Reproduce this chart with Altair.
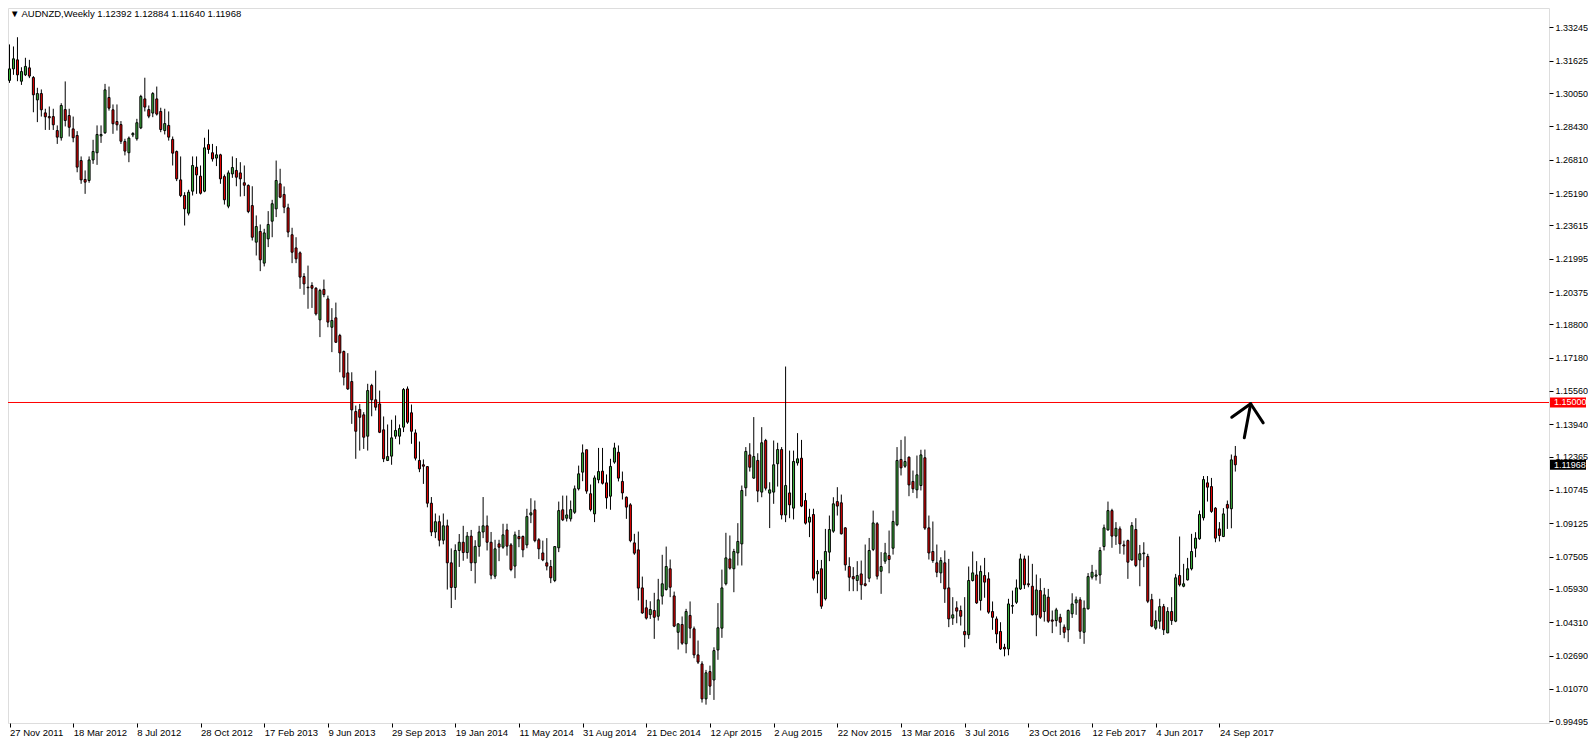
import altair as alt
import pandas as pd

# ---- weekly AUDNZD candles, 27 Nov 2011 .. 22 Oct 2017 ----
opens = [
1.3067,1.3123,1.3167,1.3063,1.3094,1.3128,1.3081,1.2972,1.3003,1.2909,
1.2891,1.2891,1.2823,1.2788,1.2925,1.2896,1.2831,1.2799,1.2677,1.2585,
1.2580,1.2680,1.2715,1.2797,1.2812,1.2984,1.2924,1.2867,1.2852,1.2770,
1.2715,1.2802,1.2783,1.2836,1.2977,1.2925,1.2908,1.2977,1.2916,1.2823,
1.2848,1.2780,1.2721,1.2583,1.2507,1.2421,1.2528,1.2645,1.2601,1.2528,
1.2755,1.2715,1.2689,1.2705,1.2599,1.2455,1.2612,1.2629,1.2617,1.2569,
1.2556,1.2458,1.2280,1.2332,1.2178,1.2296,1.2382,1.2442,1.2564,1.2512,
1.2447,1.2316,1.2252,1.2228,1.2113,1.2061,1.2069,1.2056,1.1902,1.2050,
1.2004,1.1866,1.1912,1.1826,1.1748,1.1644,1.1602,1.1456,1.1466,1.1440,
1.1336,1.1583,1.1513,1.1493,1.1367,1.1218,1.1239,1.1336,1.1336,1.1380,
1.1566,1.1450,1.1352,1.1218,1.1197,1.1188,1.1010,1.0870,1.0920,1.0830,
1.0900,1.0720,1.0600,1.0780,1.0820,1.0770,1.0850,1.0720,1.0800,1.0870,
1.0900,1.0820,1.0655,1.0812,1.0796,1.0880,1.0807,1.0704,1.0848,1.0848,
1.0807,1.0953,1.0978,1.0832,1.0768,1.0720,1.0702,1.0634,1.0793,1.0978,
1.0937,1.0934,1.0966,1.1080,1.1161,1.1270,1.1056,1.0958,1.1124,1.1166,
1.1109,1.1044,1.1210,1.1258,1.1116,1.1039,1.1002,1.0817,1.0783,1.0598,
1.0501,1.0468,1.0488,1.0460,1.0558,1.0590,1.0691,1.0559,1.0382,1.0420,
1.0326,1.0464,1.0399,1.0272,1.0228,1.0058,1.0191,1.0150,1.0296,1.0402,
1.0618,1.0739,1.0691,1.0768,1.0812,1.1085,1.1245,1.1132,1.1218,1.1064,
1.1315,1.1059,1.1064,1.1202,1.1271,1.0953,1.1060,1.0986,1.1206,1.1229,
1.1023,1.0918,1.0955,1.0666,1.0691,1.0545,1.0772,1.0874,1.1018,1.1012,
1.0890,1.0702,1.0653,1.0634,1.0666,1.0618,1.0645,1.0785,1.0910,1.0679,
1.0728,1.0755,1.0791,1.0905,1.1223,1.1190,1.1234,1.1116,1.1075,1.1096,
1.1231,1.0890,1.0775,1.0720,1.0671,1.0720,1.0598,1.0451,1.0501,1.0488,
1.0386,1.0370,1.0634,1.0661,1.0537,1.0658,1.0642,1.0483,1.0447,1.0386,
1.0309,1.0301,1.0509,1.0528,1.0593,1.0739,1.0618,1.0606,1.0467,1.0585,
1.0483,1.0553,1.0442,1.0439,1.0455,1.0407,1.0394,1.0472,1.0525,1.0540,
1.0382,1.0496,1.0650,1.0655,1.0661,1.0799,1.0880,1.0974,1.0850,1.0885,
1.0807,1.0828,1.0734,1.0882,1.0734,1.0764,1.0751,1.0541,1.0402,1.0436,
1.0507,1.0379,1.0483,1.0436,1.0658,1.0606,1.0637,1.0691,1.0791,1.0837,
1.0939,1.1109,1.1091,1.0986,1.0885,1.0848,1.1004,1.0983,1.12392]
highs = [
1.3242,1.3232,1.3277,1.3131,1.3177,1.3167,1.3088,1.3031,1.3023,1.2929,
1.2940,1.2929,1.2848,1.2956,1.3062,1.2929,1.2891,1.2820,1.2697,1.2629,
1.2697,1.2778,1.2848,1.2848,1.3050,1.3037,1.2950,1.2950,1.2869,1.2783,
1.2794,1.2815,1.2880,1.2997,1.3080,1.2945,1.3010,1.3037,1.2934,1.2929,
1.2916,1.2794,1.2726,1.2697,1.2523,1.2535,1.2697,1.2697,1.2653,1.2788,
1.2828,1.2758,1.2747,1.2710,1.2609,1.2629,1.2697,1.2689,1.2669,1.2653,
1.2561,1.2552,1.2410,1.2366,1.2345,1.2431,1.2486,1.2677,1.2637,1.2551,
1.2467,1.2350,1.2304,1.2235,1.2129,1.2166,1.2085,1.2061,1.2053,1.2098,
1.2020,1.1959,1.1986,1.1834,1.1753,1.1740,1.1647,1.1485,1.1493,1.1453,
1.1591,1.1591,1.1655,1.1558,1.1432,1.1393,1.1416,1.1437,1.1393,1.1570,
1.1578,1.1490,1.1369,1.1310,1.1223,1.1190,1.1040,1.0960,1.0950,1.0960,
1.0930,1.0790,1.0810,1.0860,1.0900,1.0870,1.0880,1.0830,1.0900,1.1040,
1.0950,1.0870,1.0832,1.0832,1.0910,1.0910,1.0816,1.0872,1.0880,1.0853,
1.0983,1.1034,1.1023,1.0840,1.0828,1.0840,1.0734,1.0801,1.1018,1.1047,
1.1047,1.1023,1.1096,1.1193,1.1296,1.1270,1.1101,1.1145,1.1279,1.1279,
1.1150,1.1226,1.1304,1.1291,1.1164,1.1043,1.1010,1.0861,1.0872,1.0653,
1.0540,1.0533,1.0574,1.0642,1.0759,1.0799,1.0736,1.0580,1.0426,1.0459,
1.0496,1.0532,1.0410,1.0342,1.0241,1.0199,1.0220,1.0309,1.0524,1.0687,
1.0866,1.0853,1.0788,1.0913,1.1096,1.1283,1.1302,1.1429,1.1253,1.1380,
1.1323,1.1112,1.1315,1.1304,1.1283,1.1675,1.1266,1.1266,1.1351,1.1318,
1.1060,1.0983,1.0983,1.0734,1.0734,1.0885,1.0950,1.1039,1.1088,1.1052,
1.0893,1.0747,1.0699,1.0728,1.0731,1.0809,1.0841,1.0974,1.0918,1.0772,
1.0817,1.0877,1.0974,1.1283,1.1318,1.1335,1.1237,1.1169,1.1242,1.1270,
1.1271,1.0950,1.0921,1.0809,1.0747,1.0780,1.0739,1.0553,1.0533,1.0512,
1.0553,1.0702,1.0775,1.0728,1.0707,1.0744,1.0674,1.0532,1.0459,1.0431,
1.0326,1.0545,1.0585,1.0639,1.0764,1.0755,1.0755,1.0715,1.0663,1.0645,
1.0598,1.0593,1.0488,1.0501,1.0472,1.0420,1.0493,1.0572,1.0556,1.0553,
1.0537,1.0670,1.0710,1.0686,1.0796,1.0906,1.1018,1.0983,1.0918,1.0897,
1.0828,1.0833,1.0918,1.0937,1.0807,1.0820,1.0764,1.0569,1.0488,1.0545,
1.0520,1.0504,1.0553,1.0666,1.0848,1.0715,1.0744,1.0861,1.0869,1.0974,
1.1142,1.1142,1.1133,1.0991,1.0918,1.0986,1.1023,1.1247,1.12884]
lows = [
1.3055,1.3094,1.3063,1.3045,1.3088,1.3078,1.2912,1.2864,1.2891,1.2826,
1.2826,1.2826,1.2758,1.2774,1.2843,1.2794,1.2766,1.2620,1.2564,1.2515,
1.2569,1.2661,1.2656,1.2763,1.2807,1.2920,1.2807,1.2823,1.2758,1.2702,
1.2669,1.2791,1.2774,1.2830,1.2916,1.2883,1.2888,1.2896,1.2815,1.2804,
1.2774,1.2653,1.2577,1.2499,1.2361,1.2410,1.2507,1.2515,1.2512,1.2523,
1.2710,1.2672,1.2650,1.2564,1.2463,1.2445,1.2593,1.2552,1.2502,1.2504,
1.2421,1.2288,1.2215,1.2139,1.2162,1.2256,1.2304,1.2402,1.2494,1.2421,
1.2304,1.2178,1.2178,1.2053,1.2024,1.1956,1.1960,1.1923,1.1818,1.2012,
1.1866,1.1745,1.1790,1.1647,1.1583,1.1561,1.1396,1.1226,1.1266,1.1274,
1.1266,1.1433,1.1461,1.1351,1.1210,1.1215,1.1197,1.1323,1.1296,1.1356,
1.1396,1.1299,1.1218,1.1161,1.1104,1.0990,1.0850,1.0840,1.0800,1.0810,
1.0590,1.0500,1.0540,1.0700,1.0730,1.0740,1.0680,1.0620,1.0750,1.0840,
1.0780,1.0640,1.0642,1.0728,1.0788,1.0755,1.0679,1.0645,1.0796,1.0747,
1.0791,1.0913,1.0820,1.0738,1.0728,1.0683,1.0621,1.0626,1.0772,1.0923,
1.0921,1.0921,1.0958,1.1072,1.1117,1.1056,1.0970,1.0918,1.1107,1.1101,
1.0983,1.0978,1.1202,1.1116,1.1028,1.0934,1.0820,1.0759,1.0537,1.0472,
1.0444,1.0447,1.0350,1.0439,1.0517,1.0585,1.0553,1.0407,1.0298,1.0321,
1.0280,1.0353,1.0256,1.0228,1.0040,1.0030,1.0077,1.0053,1.0248,1.0355,
1.0610,1.0687,1.0577,1.0707,1.0707,1.1044,1.1164,1.1129,1.1015,1.1039,
1.1072,1.0889,1.1007,1.1091,1.0931,1.0918,1.0937,1.0931,1.1193,1.0991,
1.0906,1.0845,1.0634,1.0572,1.0496,1.0537,1.0728,1.0866,1.0950,1.0858,
1.0682,1.0582,1.0582,1.0582,1.0540,1.0605,1.0626,1.0777,1.0639,1.0569,
1.0715,1.0669,1.0760,1.0898,1.1145,1.1182,1.1044,1.1060,1.1034,1.1072,
1.0880,1.0736,1.0720,1.0650,1.0621,1.0525,1.0407,1.0418,1.0426,1.0415,
1.0309,1.0350,1.0629,1.0520,1.0488,1.0550,1.0472,1.0394,1.0329,1.0296,
1.0265,1.0270,1.0472,1.0520,1.0588,1.0593,1.0601,1.0464,1.0363,1.0447,
1.0434,1.0428,1.0378,1.0410,1.0369,1.0353,1.0334,1.0452,1.0467,1.0350,
1.0326,1.0493,1.0639,1.0634,1.0618,1.0780,1.0877,1.0793,1.0807,1.0764,
1.0760,1.0642,1.0731,1.0699,1.0606,1.0699,1.0524,1.0407,1.0394,1.0399,
1.0369,1.0378,1.0418,1.0431,1.0605,1.0601,1.0634,1.0683,1.0747,1.0832,
1.0926,1.1018,1.0963,1.0820,1.0824,1.0845,1.0885,1.0888,1.11640]
closes = [
1.3123,1.3172,1.3094,1.3110,1.3135,1.3088,1.2997,1.3003,1.2924,1.2890,
1.2885,1.2851,1.2791,1.2945,1.2872,1.2839,1.2788,1.2645,1.2583,1.2572,
1.2680,1.2721,1.2804,1.2804,1.3021,1.2932,1.2856,1.2851,1.2771,1.2723,
1.2786,1.2809,1.2861,1.2989,1.2937,1.2893,1.3003,1.2903,1.2828,1.2857,
1.2791,1.2713,1.2588,1.2507,1.2442,1.2523,1.2653,1.2607,1.2518,1.2739,
1.2731,1.2685,1.2705,1.2588,1.2486,1.2617,1.2643,1.2596,1.2588,1.2557,
1.2429,1.2304,1.2356,1.2194,1.2325,1.2366,1.2467,1.2580,1.2499,1.2450,
1.2329,1.2231,1.2199,1.2110,1.2077,1.2058,1.2056,1.1931,1.2045,1.2025,
1.1891,1.1899,1.1793,1.1741,1.1623,1.1566,1.1464,1.1360,1.1428,1.1331,
1.1558,1.1513,1.1477,1.1355,1.1226,1.1237,1.1328,1.1364,1.1373,1.1563,
1.1404,1.1360,1.1229,1.1177,1.1190,1.1010,1.0870,1.0920,1.0830,1.0900,
1.0720,1.0600,1.0780,1.0820,1.0770,1.0850,1.0720,1.0800,1.0870,1.0900,
1.0820,1.0660,1.0788,1.0796,1.0856,1.0801,1.0687,1.0856,1.0837,1.0783,
1.0945,1.0963,1.0828,1.0788,1.0734,1.0704,1.0647,1.0799,1.0974,1.0929,
1.0953,1.0979,1.1080,1.1153,1.1255,1.1069,1.0979,1.1133,1.1164,1.1107,
1.1036,1.1189,1.1279,1.1132,1.1060,1.0991,1.0828,1.0767,1.0597,1.0476,
1.0451,1.0493,1.0455,1.0540,1.0618,1.0702,1.0601,1.0412,1.0423,1.0329,
1.0483,1.0402,1.0272,1.0237,1.0058,1.0185,1.0120,1.0293,1.0404,1.0598,
1.0744,1.0694,1.0775,1.0824,1.1072,1.1262,1.1185,1.1237,1.1069,1.1304,
1.1083,1.1075,1.1197,1.1271,1.0953,1.1096,1.1002,1.1213,1.1226,1.0996,
1.0913,1.0942,1.0645,1.0678,1.0509,1.0775,1.0882,1.1007,1.0996,1.0861,
1.0710,1.0650,1.0642,1.0658,1.0613,1.0610,1.0780,1.0914,1.0655,1.0702,
1.0768,1.0736,1.0921,1.1218,1.1182,1.1213,1.1099,1.1080,1.1148,1.1245,
1.0889,1.0768,1.0731,1.0674,1.0731,1.0593,1.0447,1.0467,1.0485,1.0460,
1.0370,1.0634,1.0671,1.0525,1.0678,1.0626,1.0480,1.0455,1.0374,1.0301,
1.0301,1.0520,1.0512,1.0598,1.0739,1.0613,1.0613,1.0467,1.0588,1.0455,
1.0564,1.0436,1.0436,1.0491,1.0431,1.0382,1.0488,1.0520,1.0540,1.0387,
1.0499,1.0653,1.0674,1.0661,1.0780,1.0890,1.0974,1.0850,1.0888,1.0812,
1.0802,1.0723,1.0901,1.0707,1.0764,1.0768,1.0533,1.0412,1.0439,1.0507,
1.0394,1.0483,1.0439,1.0647,1.0613,1.0618,1.0691,1.0775,1.0840,1.0955,
1.1125,1.1088,1.0970,1.0840,1.0853,1.0958,1.0986,1.1221,1.11968]

# x-axis labels: one every 16 weekly bars, starting with the first bar
x_tick_labels = ["27 Nov 2011", "18 Mar 2012", "8 Jul 2012", "28 Oct 2012",
                 "17 Feb 2013", "9 Jun 2013", "29 Sep 2013", "19 Jan 2014",
                 "11 May 2014", "31 Aug 2014", "21 Dec 2014", "12 Apr 2015",
                 "2 Aug 2015", "22 Nov 2015", "13 Mar 2016", "3 Jul 2016",
                 "23 Oct 2016", "12 Feb 2017", "4 Jun 2017", "24 Sep 2017"]
x_tick_step = 16
y_tick_values = [1.33245, 1.31625, 1.30050, 1.28430, 1.26810, 1.25190, 1.23615,
                 1.21995, 1.20375, 1.18800, 1.17180, 1.15560, 1.13940, 1.12365,
                 1.10745, 1.09125, 1.07505, 1.05930, 1.04310, 1.02690, 1.01070,
                 0.99495]
level_price = 1.15000
symbol_title = "AUDNZD,Weekly"

# hand-drawn arrow (bar index, price) segments
arrow_x1 = [310.25, 311.85, 311.85]
arrow_y1 = [1.1328, 1.1494, 1.1494]
arrow_x2 = [311.85, 307.10, 315.00]
arrow_y2 = [1.1494, 1.1428, 1.1401]

GREEN = "#3cb43c"
RED = "#f00000"
FONT = "Liberation Sans"

W, H = 1541, 715
BAR_PX = 3.98          # pixels per weekly bar
FIRST_PX = 1.5         # position of the first bar inside the plot

df = pd.DataFrame({"idx": list(range(len(opens))), "open": opens,
                   "high": highs, "low": lows, "close": closes})

x_scale = alt.Scale(domain=[-FIRST_PX / BAR_PX, (W - FIRST_PX) / BAR_PX],
                    nice=False, zero=False, padding=0)
y_scale = alt.Scale(domain=[0.99407, 1.34192], nice=False, zero=False, padding=0)

labels_js = "[" + ",".join("'%s'" % s for s in x_tick_labels) + "]"
x_axis = alt.Axis(values=[i * x_tick_step for i in range(len(x_tick_labels))],
                  labelExpr=labels_js + "[round(datum.value/%d)]" % x_tick_step,
                  title=None, grid=False, domain=False, ticks=True, tickSize=4,
                  tickColor="black", labelAlign="left", labelBaseline="top",
                  labelPadding=0, labelFont=FONT, labelFontSize=9.5,
                  labelColor="black", labelFlush=False, labelOverlap=False)
y_axis = alt.Axis(orient="right", values=y_tick_values, format=".5f", title=None,
                  grid=False, domain=False, tickSize=4, tickColor="black",
                  labelPadding=2, labelFont=FONT, labelFontSize=9,
                  labelColor="black", labelOverlap=False, labelFlush=False)

X = alt.X("idx:Q", scale=x_scale, axis=x_axis)

base = alt.Chart(df)
wicks = base.mark_rule(color="black", strokeWidth=1).encode(
    x=X, y=alt.Y("low:Q", scale=y_scale, axis=y_axis), y2="high:Q")
bodies = base.mark_bar(size=2, stroke="black", strokeWidth=1).encode(
    x=X, y=alt.Y("open:Q", scale=y_scale, axis=y_axis), y2="close:Q",
    fill=alt.condition("datum.close >= datum.open", alt.value(GREEN), alt.value(RED)))

lvl = pd.DataFrame({"p": [level_price], "t": ["%.5f" % level_price]})
level_line = alt.Chart(lvl).mark_rule(color="#ff0000", strokeWidth=1).encode(
    y=alt.Y("p:Q", scale=y_scale, axis=y_axis))
level_box = alt.Chart(lvl).mark_rule(color="#ff0000", strokeWidth=10).encode(
    x=alt.value(W + 1), x2=alt.value(W + 37), y=alt.Y("p:Q", scale=y_scale, axis=y_axis))
level_txt = alt.Chart(lvl).mark_text(align="left", baseline="middle", color="white",
                                     font=FONT, fontSize=9).encode(
    x=alt.value(W + 5), y=alt.Y("p:Q", scale=y_scale, axis=y_axis), text="t:N")

last = pd.DataFrame({"p": [closes[-1]], "t": ["%.5f" % closes[-1]]})
last_box = alt.Chart(last).mark_rule(color="black", strokeWidth=10).encode(
    x=alt.value(W + 1), x2=alt.value(W + 37), y=alt.Y("p:Q", scale=y_scale, axis=y_axis))
last_txt = alt.Chart(last).mark_text(align="left", baseline="middle", color="white",
                                     font=FONT, fontSize=9).encode(
    x=alt.value(W + 5), y=alt.Y("p:Q", scale=y_scale, axis=y_axis), text="t:N")

arr = pd.DataFrame({"x1": arrow_x1, "y1": arrow_y1, "x2": arrow_x2, "y2": arrow_y2})
arrow = alt.Chart(arr).mark_rule(color="black", strokeWidth=3, strokeCap="round").encode(
    x=alt.X("x1:Q", scale=x_scale, axis=x_axis), x2="x2:Q",
    y=alt.Y("y1:Q", scale=y_scale, axis=y_axis), y2="y2:Q")

header_text = "\u25bc %s  %.5f %.5f %.5f %.5f" % (symbol_title, opens[-1], highs[-1], lows[-1], closes[-1])
header = alt.Chart(pd.DataFrame({"t": [header_text]})).mark_text(
    align="left", baseline="middle", color="black", font=FONT, fontSize=9.5).encode(
    x=alt.value(2), y=alt.value(6), text="t:N")

chart = alt.layer(level_line, wicks, bodies, arrow, level_box, level_txt,
                  last_box, last_txt, header).properties(
    width=W, height=H,
    autosize=alt.AutoSizeParams(type="none"),
    padding={"left": 0, "top": 0, "right": 39, "bottom": 21},
).configure_view(stroke="black", strokeWidth=1).configure(background="white")

chart.save("out.html", embed_options={"renderer": "svg", "actions": False})
